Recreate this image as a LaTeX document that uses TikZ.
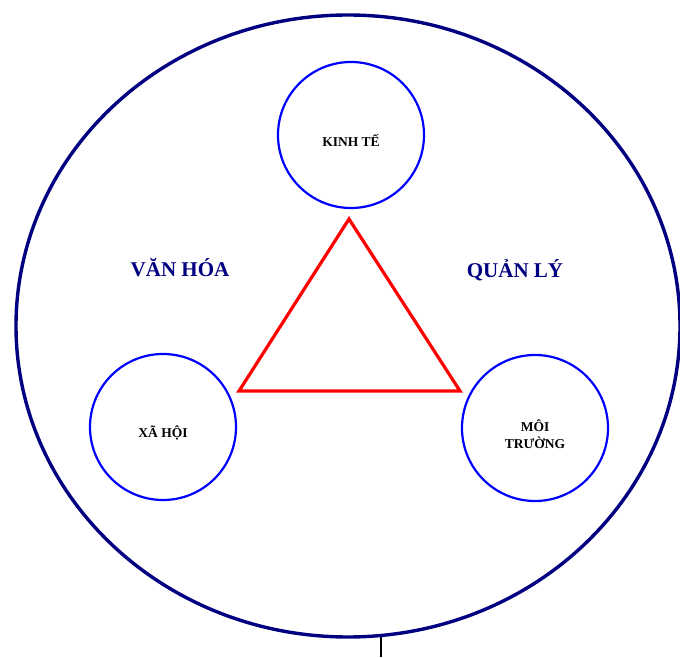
\documentclass[tikz,border=0pt]{standalone}
\usepackage{fontspec}
\setmainfont{Liberation Serif}
\usetikzlibrary{shapes.geometric}

\definecolor{ringblue}{RGB}{0,0,128}

\begin{document}
\begin{tikzpicture}[
    x=1pt, y=1pt,
    ring/.style={
        ellipse,
        draw=ringblue,
        line width=3.4pt,
        minimum width=664pt,
        minimum height=622pt
    },
    pillar/.style={
        circle,
        draw=blue,
        line width=2.2pt,
        minimum size=146pt
    },
    pillartext/.style={
        font=\bfseries\fontsize{13.5}{17}\selectfont,
        align=center
    },
    sidelabel/.style={
        text=ringblue,
        font=\bfseries\fontsize{21}{25}\selectfont
    },
    core/.style={
        draw=red,
        line width=3.2pt,
        line join=miter
    }
]
    \useasboundingbox (0,0) rectangle (680,657);

    % --- Nodes ---

    % Outer ring
    \node [ring] (ring) at (348,331) {};

    % Three pillars (text sits a little below centre)
    \node [pillar] (econ) at (351,522) {};
    \node [pillar] (society) at (163,230) {};
    \node [pillar] (env) at (535,229) {};
    \node [pillartext] (econtext) at ([yshift=-5pt]econ.center) {KINH TẾ};
    \node [pillartext] (societytext) at ([yshift=-6pt]society.center) {XÃ HỘI};
    \node [pillartext] (envtext) at ([yshift=-6pt]env.center) {MÔI\\TRƯỜNG};

    % Side labels
    \node [sidelabel] (culture) at (180,389) {VĂN HÓA};
    \node [sidelabel] (manage) at (515,387) {QUẢN LÝ};

    % Triangle corners
    \coordinate (apex) at (349,438);
    \coordinate (leftfoot) at (239,266);
    \coordinate (rightfoot) at (460,266);

    % Stem below the ring
    \coordinate (stemtop) at (381,20);
    \coordinate (stembot) at (381,0);

    % --- Connections ---

    \draw [core] (apex) -- (leftfoot) -- (rightfoot) -- cycle;
    \draw [line width=2pt] (stemtop) -- (stembot);

\end{tikzpicture}
\end{document}
